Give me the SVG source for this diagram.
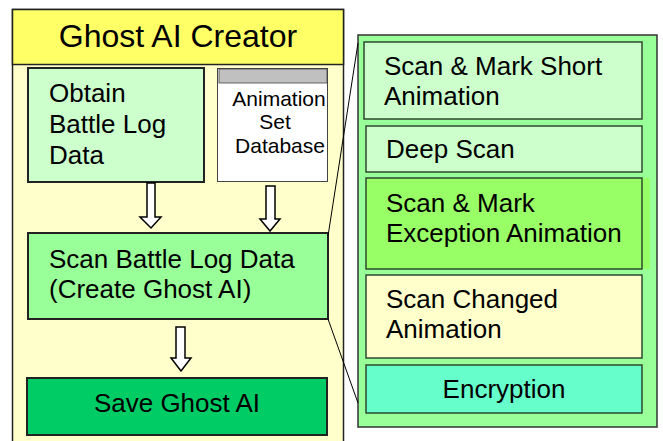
<svg xmlns="http://www.w3.org/2000/svg" width="663" height="441" viewBox="0 0 663 441">
<style>
text{font-family:"Liberation Sans",Arial,sans-serif;fill:#000}
.box{stroke:#222;stroke-width:2}
.ibox{stroke:#2e4a2e;stroke-width:1.5}
.arrow{fill:#fff;stroke:#000;stroke-width:1.5}
.line{stroke:#000;stroke-width:1;fill:none}
</style>
<rect width="663" height="441" fill="#fff"/>
<g id="creator-panel">
<rect x="12.5" y="9.5" width="331" height="440" fill="#ffffcc" stroke="#222" stroke-width="1.5"/>
<rect x="12.5" y="9.5" width="331" height="55" fill="#ffff66" stroke="#222" stroke-width="1.5"/>
<text x="178" y="47" font-size="32" text-anchor="middle">Ghost AI Creator</text>
</g>
<g id="obtain">
<rect class="box" x="28" y="68" width="176" height="114" fill="#ccffcc"/>
<text font-size="26"><tspan x="49" y="102">Obtain</tspan><tspan x="49" y="133">Battle Log</tspan><tspan x="49" y="164">Data</tspan></text>
</g>
<g id="animdb">
<rect x="217.5" y="68.5" width="110" height="113" fill="#fff" stroke="#444" stroke-width="1"/>
<rect x="219" y="69" width="108" height="14" fill="#c0c0c0" stroke="#444" stroke-width="0.8"/>
<text font-size="21" text-anchor="middle"><tspan x="279" y="106">Animation</tspan><tspan x="275" y="129">Set</tspan><tspan x="280" y="153">Database</tspan></text>
</g>
<g id="scan">
<rect class="box" x="28" y="233" width="300" height="86" fill="#99ff99"/>
<text font-size="26"><tspan x="49" y="268">Scan Battle Log Data</tspan><tspan x="49" y="298">(Create Ghost AI)</tspan></text>
</g>
<g id="save">
<rect class="box" x="27" y="378" width="300" height="57" fill="#00cc66"/>
<text x="177" y="412" font-size="26" text-anchor="middle">Save Ghost AI</text>
</g>
<g id="detail-panel">
<rect x="358" y="35" width="299" height="392" fill="#99ff99" stroke="#333" stroke-width="1.5"/>
</g>
<g id="short">
<rect class="ibox" x="364" y="42" width="278" height="77" fill="#ccffcc"/>
<text font-size="26"><tspan x="384" y="75">Scan &amp; Mark Short</tspan><tspan x="384" y="105">Animation</tspan></text>
</g>
<g id="deep">
<rect class="ibox" x="366" y="126" width="276" height="46" fill="#ccffcc" stroke="#111"/>
<text x="386" y="158" font-size="26">Deep Scan</text>
</g>
<g id="exception">
<rect x="366" y="178" width="284" height="91" fill="#99ff66"/>
<rect class="ibox" x="366" y="178" width="276" height="91" fill="none"/>
<text font-size="26"><tspan x="386" y="212">Scan &amp; Mark</tspan><tspan x="386" y="242">Exception Animation</tspan></text>
</g>
<g id="changed">
<rect class="ibox" x="366" y="275" width="276" height="83" fill="#ffffcc" stroke="#222"/>
<text font-size="26"><tspan x="386" y="308">Scan Changed</tspan><tspan x="386" y="338">Animation</tspan></text>
</g>
<g id="encryption">
<rect class="ibox" x="366" y="365" width="276" height="48" fill="#66ffcc"/>
<text x="504" y="398" font-size="26" text-anchor="middle">Encryption</text>
</g>
<g id="connectors">
<path class="arrow" d="M147,183 H155 V217 H161 L151,228 L140,217 H147 Z"/>
<path class="arrow" d="M266,186 H275 V219 H280 L270,231 L260,219 H266 Z"/>
<path class="arrow" d="M176,327 H185 V358 H191 L181,371 L171,358 H176 Z"/>
<line class="line" x1="328" y1="236" x2="358" y2="43"/>
<line class="line" x1="328" y1="319" x2="358" y2="403"/>
</g>
</svg>
